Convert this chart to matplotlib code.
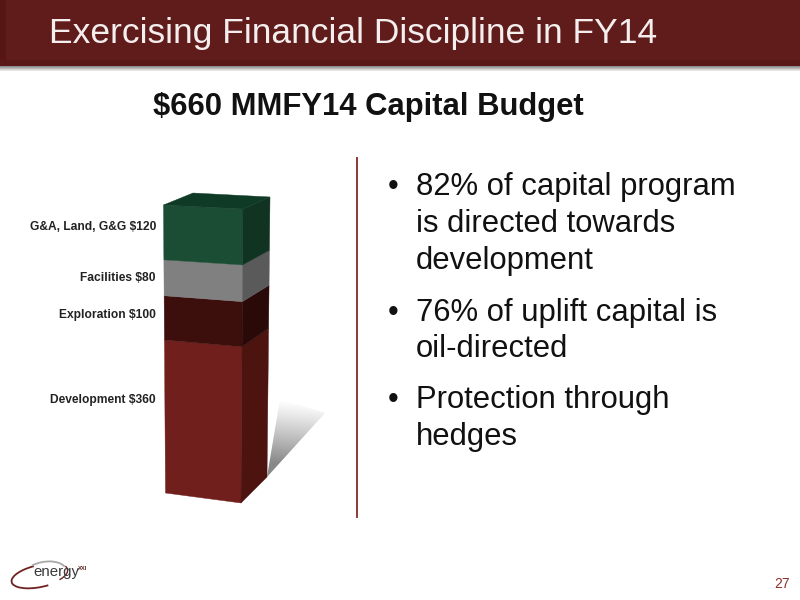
import numpy as np
import matplotlib
matplotlib.use("Agg")
import matplotlib.pyplot as plt
from matplotlib.patches import Polygon, Arc, Rectangle

plt.rcParams['font.family'] = ['Liberation Sans', 'DejaVu Sans']

# ---- data ----
categories = ["Development", "Exploration", "Facilities", "G&A, Land, G&G"]
values = [360, 100, 80, 120]
front_colors = ["#701f1c", "#3d0f0c", "#808080", "#1a4d33"]
side_colors = ["#4c130f", "#2a0a08", "#5a5a5a", "#113322"]
label_y = [400, 315, 278, 227]
title = "Exercising Financial Discipline in FY14"
subtitle = "$660 MMFY14 Capital Budget"
bullets = [["82% of capital program", "is directed towards", "development"],
           ["76% of uplift capital is", "oil-directed"],
           ["Protection through", "hedges"]]
bullet_y = [[187, 224, 261], [313, 349], [400, 437]]

fig = plt.figure(figsize=(8, 6), dpi=100, facecolor="white")
ax = fig.add_axes([0, 0, 1, 1])
ax.set_xlim(0, 800)
ax.set_ylim(600, 0)
ax.axis("off")

# header band
ax.add_patch(Rectangle((0, 0), 800, 66, fc="#5f1c1a", ec="none", zorder=2))
ax.add_patch(Rectangle((0, 0), 6, 66, fc="#561714", ec="none", zorder=3))
ax.add_patch(Rectangle((0, 60), 800, 6, fc="#591917", ec="none", zorder=3))
shade = np.linspace(0.55, 1, 6)[:, None]
ax.imshow(shade, extent=(0, 800, 72, 66), cmap="gray", vmin=0, vmax=1,
          aspect="auto", zorder=1)
ax.set_xlim(0, 800)
ax.set_ylim(600, 0)
ax.text(49, 34, title, color="#f4eeee", fontsize=25.5, va="center", ha="left", zorder=4)

ax.text(368.5, 107, subtitle, fontsize=22.3, fontweight="bold", color="#111111",
        ha="center", va="center")

# 3D column: corner edges in figure pixels, values mapped with perspective
total = sum(values)
FL = ((165.5, 493), (163.5, 205))
FR = ((241, 503), (243, 209))
BR = ((267, 477), (270, 197))
BL_TOP = (193, 193)


def persp(v):
    t = v / total
    return t / (t + (1 - t) * 1.058)


def pt(edge, v):
    s = persp(v)
    return (edge[0][0] + (edge[1][0] - edge[0][0]) * s,
            edge[0][1] + (edge[1][1] - edge[0][1]) * s)


# floor shadow with fade towards the far end
gx, gy = np.meshgrid(np.linspace(0, 1, 120), np.linspace(0, 1, 120))
alpha = np.clip(gy * 1.25 - gx * 0.1, 0, 1) ** 1.1 * 0.62
rgba = np.zeros((120, 120, 4))
rgba[..., :3] = 0.25
rgba[..., 3] = alpha
im = ax.imshow(rgba, extent=(267, 326, 478, 398), aspect="auto", zorder=1,
               interpolation="bilinear", origin="upper")
shadow = Polygon([BR[0], (280, 399), (325, 413)], closed=True, fc="none", ec="none",
                 transform=ax.transData)
ax.add_patch(shadow)
im.set_clip_path(shadow)
ax.set_xlim(0, 800)
ax.set_ylim(600, 0)

cum = np.concatenate([[0], np.cumsum(values)])
for i, cat in enumerate(categories):
    lo, hi = cum[i], cum[i + 1]
    ax.add_patch(Polygon([pt(FL, lo), pt(FR, lo), pt(FR, hi), pt(FL, hi)], closed=True,
                         fc=front_colors[i], ec=front_colors[i], lw=0.3, zorder=5))
    ax.add_patch(Polygon([pt(FR, lo), pt(BR, lo), pt(BR, hi), pt(FR, hi)], closed=True,
                         fc=side_colors[i], ec=side_colors[i], lw=0.3, zorder=5))
    ax.text(156, label_y[i], f"{cat} ${values[i]}", fontsize=8.65, fontweight="bold",
            color="#222222", ha="right", va="center")
ax.add_patch(Polygon([pt(FL, total), pt(FR, total), pt(BR, total), BL_TOP], closed=True,
                     fc="#0f3a25", ec="#0f3a25", lw=0.3, zorder=5))

# divider
ax.plot([357, 357], [158, 517], color="#8f3a35", lw=1.4)

# bullets
for group, ys in zip(bullets, bullet_y):
    ax.text(388, ys[0], "\u2022", fontsize=22, color="#111111", va="center", ha="left")
    for line, y in zip(group, ys):
        ax.text(416, y, line, fontsize=22.3, color="#111111", va="center", ha="left")

# logo
ax.add_patch(Arc((40, 576), 58, 22, angle=-12, theta1=60, theta2=250, color="#6e2320", lw=1.3))
ax.add_patch(Arc((44, 575), 46, 26, angle=-12, theta1=230, theta2=350, color="#a9a9a9", lw=1.3))
ax.add_patch(Arc((46, 574), 44, 20, angle=-12, theta1=350, theta2=395, color="#6e2320", lw=1.0))
ax.text(33, 572, "energy", fontsize=10.8, color="#3a3a3a", va="center", ha="left", zorder=4)
ax.text(78, 569, "XXI", fontsize=4.2, fontweight="bold", color="#5a2a28", va="center", ha="left")

ax.text(790, 584, "27", fontsize=10, color="#8f2f2a", ha="right", va="center")

fig.savefig("out.png", dpi=100)
